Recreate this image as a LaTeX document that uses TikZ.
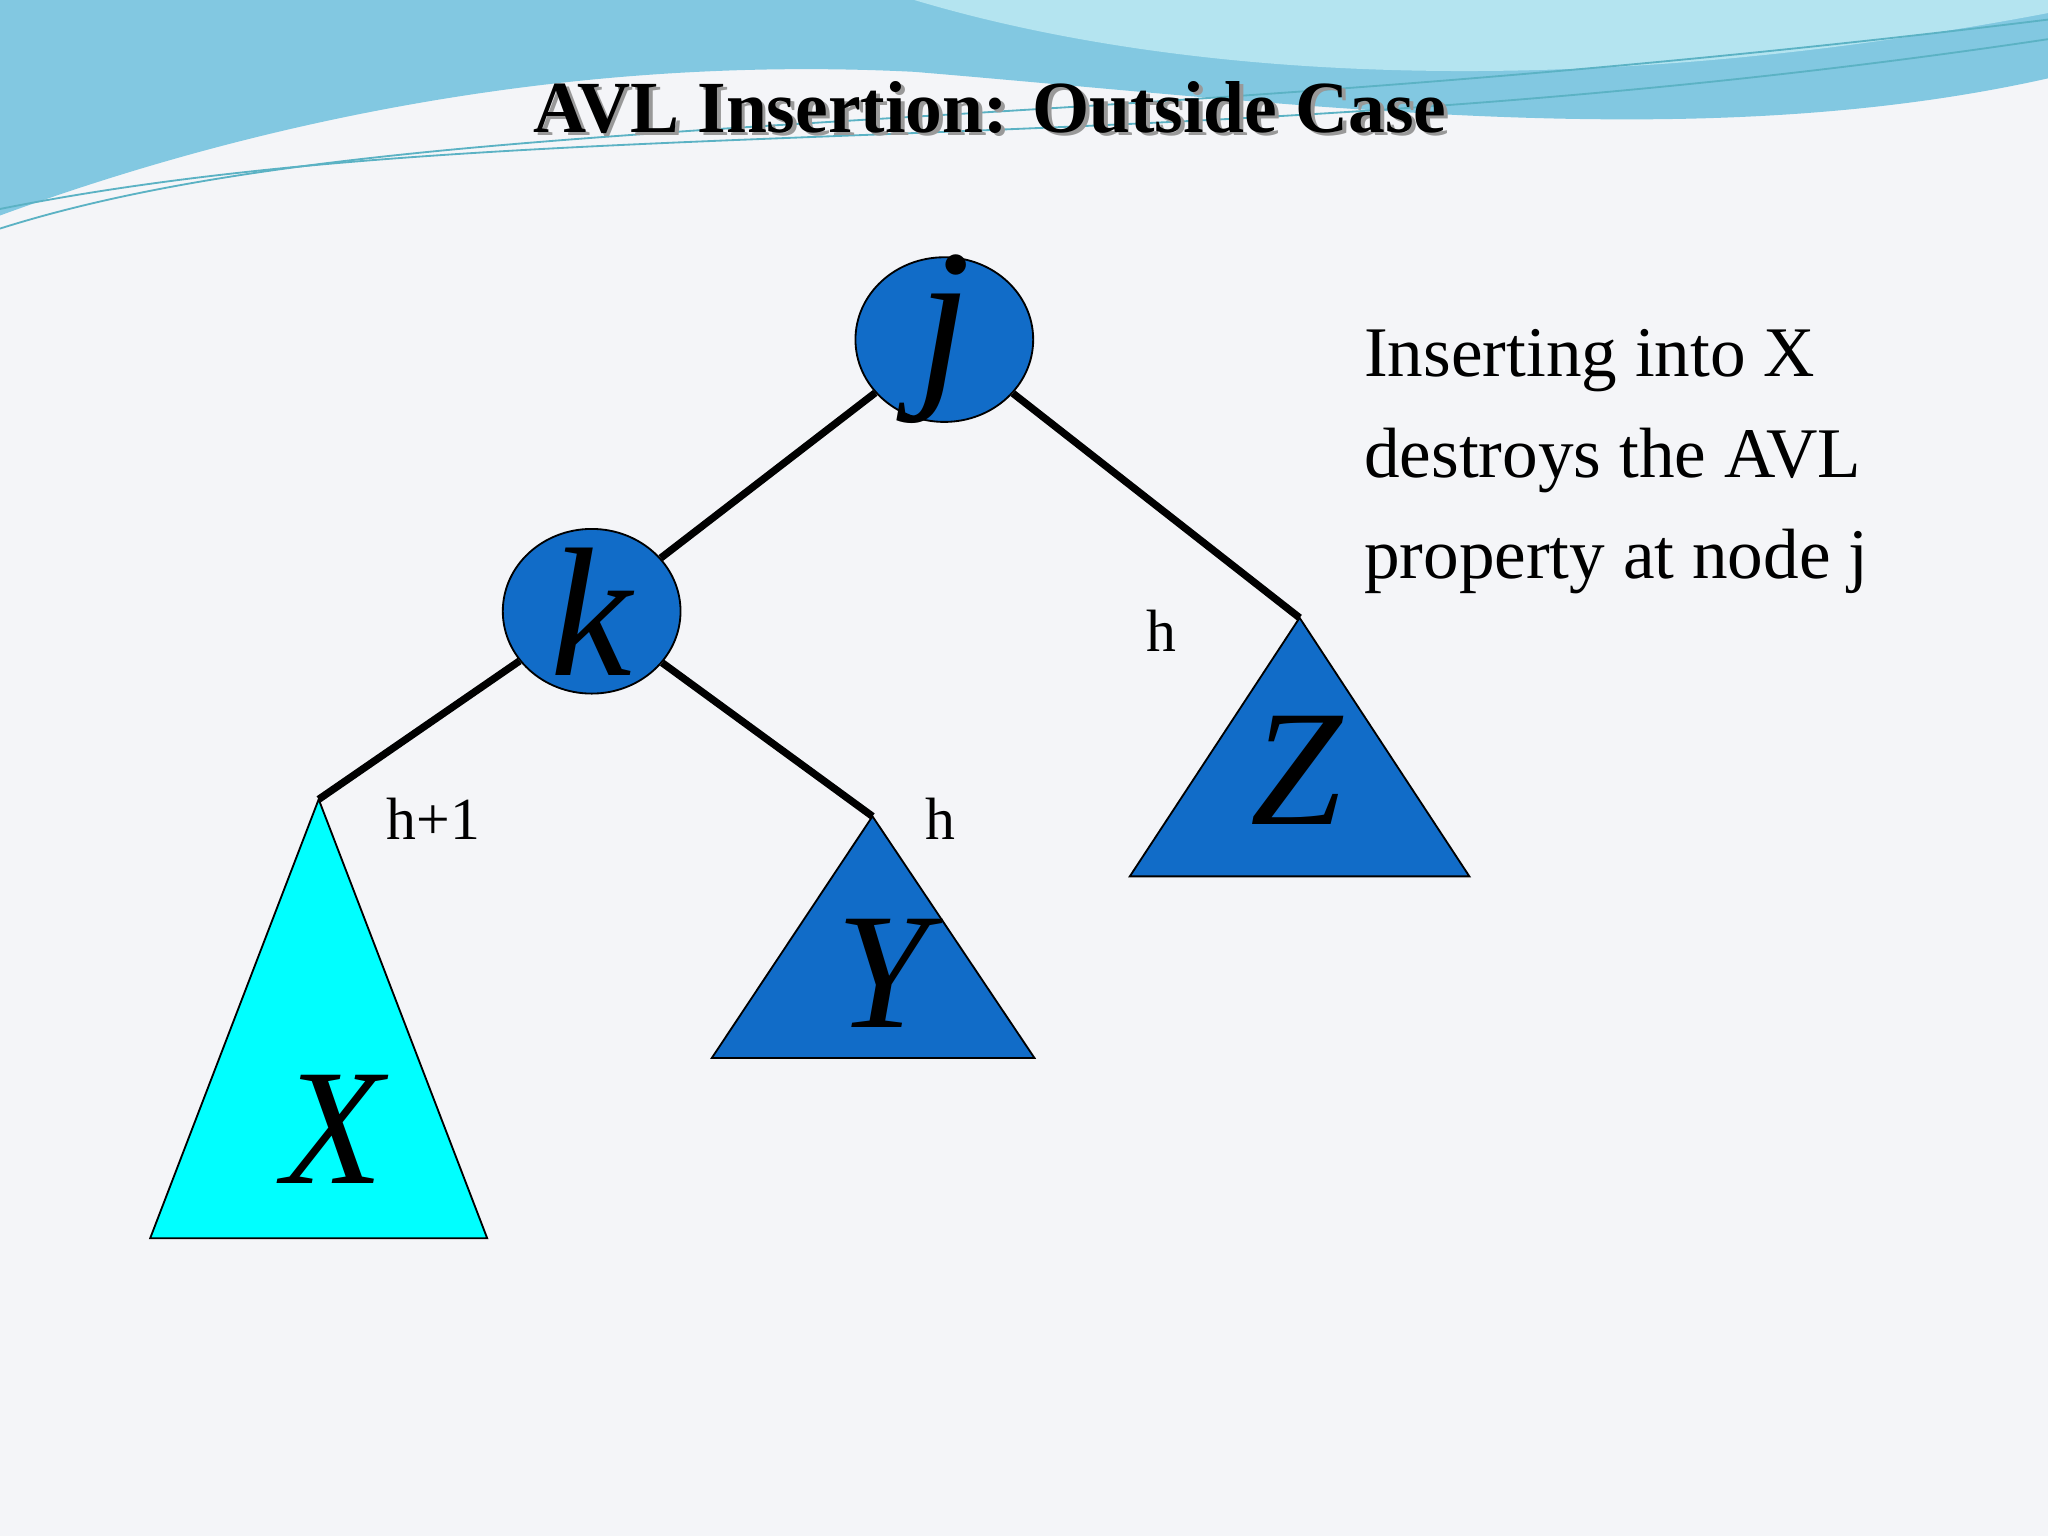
\documentclass[tikz,border=0pt]{standalone}
\usepackage{fontspec}
\usetikzlibrary{shapes.geometric}
\setmainfont{Liberation Serif}
\begin{document}
\begin{tikzpicture}[x=0.01cm,y=-0.01cm,
  nd/.style={ellipse,draw,fill=nodeblue,minimum width=1.36cm,minimum height=1.26cm,inner sep=0},
  tri/.style={draw,fill=nodeblue},
  edge/.style={line width=1.6pt},
  big/.style={font=\fontsize{36}{36}\selectfont\itshape},
  lab/.style={font=\fontsize{13}{13}\selectfont}]
\definecolor{nodeblue}{RGB}{17,108,200}
\definecolor{xcyan}{RGB}{0,255,255}
\definecolor{bg}{RGB}{244,245,248}
\definecolor{wave}{RGB}{130,200,225}
\definecolor{wave2}{RGB}{180,228,240}
\useasboundingbox (0,0) rectangle (1568,1176);
\fill[bg] (0,0) rectangle (1568,1176);
\fill[wave] (0,0) -- (1568,0) -- (1568,60) .. controls (1300,120) and (1000,80) .. (700,55) .. controls (400,40) and (150,110) .. (0,165) -- cycle;
\fill[wave2] (700,0) .. controls (900,60) and (1200,80) .. (1568,10) -- (1568,0) -- cycle;
\draw[wave!70!teal] (0,175) .. controls (300,80) and (800,110) .. (1568,15);
\draw[wave!70!teal] (0,160) .. controls (400,80) and (900,130) .. (1568,30);
\node[font=\fontsize{16}{16}\selectfont\bfseries,text=black!40] at (761,85) {AVL Insertion: Outside Case};
\node[font=\fontsize{16}{16}\selectfont\bfseries] (title) at (758,82) {AVL Insertion: Outside Case};
\node[nd] (j) at (723,260) {};
\node[nd] (k) at (453,468) {};
\node[font=\fontsize{42}{42}\selectfont\itshape] at (j.center) {j};
\node[font=\fontsize{40}{40}\selectfont\itshape] at (k.center) {k};
\coordinate (xa) at (244,612);
\coordinate (ya) at (668,625);
\coordinate (za) at (995,473);
\draw[tri,fill=xcyan] (xa) -- (373,948) -- (115,948) -- cycle;
\draw[tri] (ya) -- (792,810) -- (545,810) -- cycle;
\draw[tri] (za) -- (1125,671) -- (865,671) -- cycle;
\node[big] at (255,865) {X};
\node[big] at (676,745) {Y};
\node[big] at (993,590) {Z};
\draw[edge] (j) -- (k);
\draw[edge] (j) -- (za);
\draw[edge] (k) -- (xa);
\draw[edge] (k) -- (ya);
\node[lab] at (332,627) {h+1};
\node[lab] at (720,627) {h};
\node[lab] at (889,483) {h};
\node[anchor=north west,align=left,font=\fontsize{15.5}{22}\selectfont] (txt) at (1032,240) {Inserting into X\\destroys the AVL\\property at node j};
\end{tikzpicture}
\end{document}
